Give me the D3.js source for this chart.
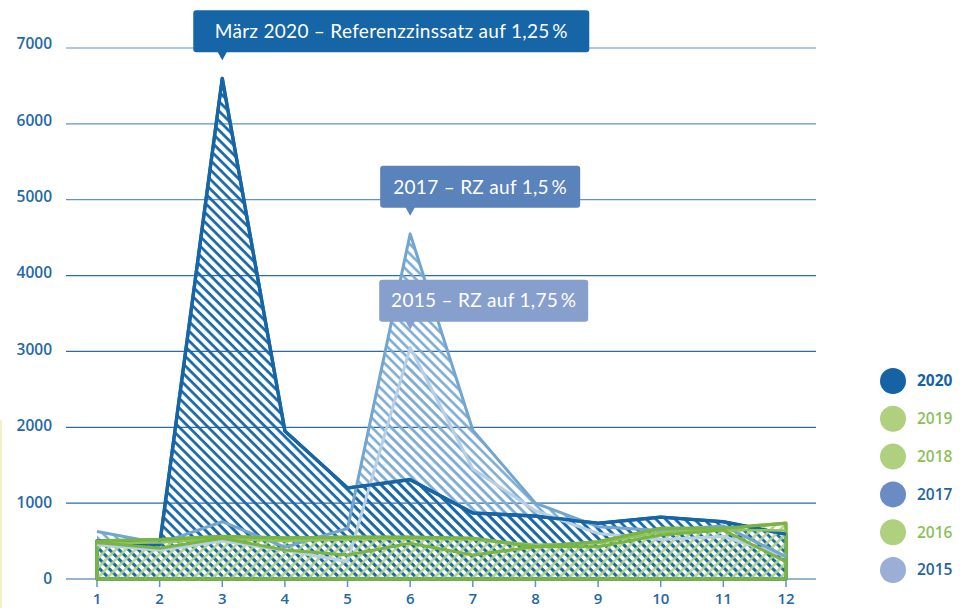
<!DOCTYPE html>
<html>
<head>
<meta charset="utf-8">
<script src="https://cdn.jsdelivr.net/npm/d3@7"></script>
<style>
  body { margin: 0; background: #fff; }
  svg { display: block; }
</style>
</head>
<body>
<div id="chart"></div>
<script>
const months = [1, 2, 3, 4, 5, 6, 7, 8, 9, 10, 11, 12];
const yTicks = [0, 1000, 2000, 3000, 4000, 5000, 6000, 7000];

const v2020 = [505, 450, 6600, 1950, 1200, 1310, 870, 830, 735, 815, 755, 590];
const v2019 = [500, 520, 560, 540, 550, 550, 536, 425, 490, 668, 668, 735];
const v2018 = [480, 405, 536, 382, 316, 470, 316, 425, 425, 580, 645, 228];
const v2017 = [625, 470, 755, 420, 665, 4550, 1960, 1000, 690, 640, 700, 295];
const v2016 = [470, 480, 530, 500, 520, 530, 520, 450, 470, 620, 650, 640];
const v2015 = [450, 380, 500, 380, 230, 3050, 1450, 900, 600, 520, 560, 300];

const legendYears = ["2020", "2019", "2018", "2017", "2016", "2015"];
const legendColors = ["#1563a5", "#afd07e", "#afd07e", "#6a8bc3", "#afd07e", "#9aaed6"];
const legendText = ["#1563a5", "#8cbf5a", "#8cbf5a", "#1d63a3", "#8cbf5a", "#1d63a3"];

const callouts = [
  {text: "März 2020 – Referenzzinssatz auf 1,25\u2009%", month: 3, value: 6600, fill: "#1565a7", left: 29, right: 367},
  {text: "2017 – RZ auf 1,5\u2009%", month: 6, value: 4550, fill: "#5a82bb", left: 30, right: 170},
  {text: "2015 – RZ auf 1,75\u2009%", month: 6, value: 3050, fill: "#869fcc", left: 31, right: 178}
];

const width = 970, height = 608;
const margins = {top: 48, right: 184, bottom: 29, left: 97};

const svg = d3.select("#chart")
  .append("svg")
  .attr("width", width)
  .attr("height", height);

const xScale = d3.scaleLinear()
  .domain([1, 12])
  .range([margins.left, 786]);

const yScale = d3.scaleLinear()
  .domain([0, 7000])
  .range([height - margins.bottom, margins.top]);

// hatch patterns
const defs = svg.append("defs");
function hatch(id, color, angle, sw) {
  const p = defs.append("pattern")
    .attr("id", id)
    .attr("patternUnits", "userSpaceOnUse")
    .attr("width", 6.8)
    .attr("height", 6.8)
    .attr("patternTransform", `rotate(${angle})`);
  p.append("line")
    .attr("x1", 1.5).attr("y1", 0)
    .attr("x2", 1.5).attr("y2", 6.8)
    .attr("stroke", color)
    .attr("stroke-width", sw);
}
hatch("h2020", "#1565a7", -45, 2.7);
hatch("h2017", "#78a8d1", -45, 2.5);
hatch("h2015", "#bcd3e8", -45, 2.5);
hatch("hgreen", "#b0d48a", 45, 2.5);

// faint left rule
svg.append("line")
  .attr("x1", 1).attr("x2", 1)
  .attr("y1", 420).attr("y2", height)
  .attr("stroke", "#f3efc6")
  .attr("stroke-width", 2);

// grid
svg.append("g")
  .selectAll("line")
  .data(yTicks)
  .join("line")
    .attr("x1", 66)
    .attr("x2", 816)
    .attr("y1", d => yScale(d))
    .attr("y2", d => yScale(d))
    .attr("stroke", d => d >= 5000 ? "#5d94c6" : "#2f6ca6")
    .attr("stroke-width", 1.2);

svg.append("g")
  .selectAll("text")
  .data(yTicks)
  .join("text")
    .attr("x", 52)
    .attr("y", d => yScale(d) - d / 1600)
    .attr("dy", "0.35em")
    .attr("text-anchor", "end")
    .style("font-family", "'Open Sans', sans-serif")
    .style("font-weight", 600)
    .style("font-size", "15.5px")
    .style("fill", "#2468a5")
    .text(d => d);

// x ticks
const xAxis = svg.append("g");
xAxis.selectAll("line")
  .data(months)
  .join("line")
    .attr("x1", d => xScale(d))
    .attr("x2", d => xScale(d))
    .attr("y1", yScale(0))
    .attr("y2", yScale(0) + 8)
    .attr("stroke", "#5d94c6")
    .attr("stroke-width", 1.5);
xAxis.selectAll("text")
  .data(months)
  .join("text")
    .attr("x", d => xScale(d))
    .attr("y", 604)
    .attr("text-anchor", "middle")
    .style("font-family", "'Open Sans', sans-serif")
    .style("font-weight", 600)
    .style("font-size", "15px")
    .style("fill", "#2468a5")
    .text(d => d);

const area = d3.area()
  .x((d, i) => xScale(months[i]))
  .y0(yScale(0))
  .y1(d => yScale(d));

const line = d3.line()
  .x((d, i) => xScale(months[i]))
  .y(d => yScale(d));

// areas
const areas = [
  {values: v2015, fill: "url(#h2015)", stroke: "none"},
  {values: v2017, fill: "url(#h2017)", stroke: "none"},
  {values: v2020, fill: "url(#h2020)", stroke: "#1565a7"},
  {values: v2019, fill: "url(#hgreen)", stroke: "#79b542"}
];
svg.append("g")
  .selectAll("path")
  .data(areas)
  .join("path")
    .attr("d", d => area(d.values) + "Z")
    .attr("fill", d => d.fill)
    .attr("stroke", d => d.stroke)
    .attr("stroke-width", 3.4)
    .attr("stroke-linejoin", "round");

// lines
const lines = [
  {values: v2015, color: "#b7d0e7", w: 3},
  {values: v2017, color: "#72a5d0", w: 3},
  {values: v2020, color: "#1565a7", w: 3.2},
  {values: v2016, color: "#8fc35e", w: 2.5},
  {values: v2018, color: "#79b542", w: 3},
  {values: v2019, color: "#79b542", w: 3}
];
svg.append("g")
  .selectAll("path")
  .data(lines)
  .join("path")
    .attr("d", d => line(d.values))
    .attr("fill", "none")
    .attr("stroke", d => d.color)
    .attr("stroke-width", d => d.w)
    .attr("stroke-linejoin", "round");

// callouts
const call = svg.append("g")
  .selectAll("g")
  .data(callouts)
  .join("g")
    .attr("transform", d => `translate(${xScale(d.month)},${yScale(d.value) - 18})`);

call.append("rect")
  .attr("x", d => -d.left)
  .attr("y", -50)
  .attr("width", d => d.left + d.right)
  .attr("height", 42)
  .attr("rx", 3)
  .attr("fill", d => d.fill);

call.append("path")
  .attr("d", "M-5,-9 L5,-9 L0,0 Z")
  .attr("fill", d => d.fill);

call.append("text")
  .attr("x", d => (d.right - d.left) / 2)
  .attr("y", -29)
  .attr("dy", "0.35em")
  .attr("text-anchor", "middle")
  .style("font-family", "'Lato', sans-serif")
  .style("font-weight", 400)
  .style("font-size", "19px")
  .style("letter-spacing", "0.3px")
  .style("fill", "#fff")
  .text(d => d.text);

// legend
const legend = svg.append("g")
  .selectAll("g")
  .data(legendYears)
  .join("g")
    .attr("transform", (d, i) => `translate(893,${381 + i * 37.8})`);

legend.append("circle")
  .attr("r", 13)
  .attr("fill", (d, i) => legendColors[i]);

legend.append("text")
  .attr("x", 24)
  .attr("dy", "0.35em")
  .style("font-family", "'Open Sans', sans-serif")
  .style("font-weight", (d, i) => i == 0 ? 700 : 600)
  .style("font-size", "15.5px")
  .style("fill", (d, i) => legendText[i])
  .text(d => d);
</script>
</body>
</html>
